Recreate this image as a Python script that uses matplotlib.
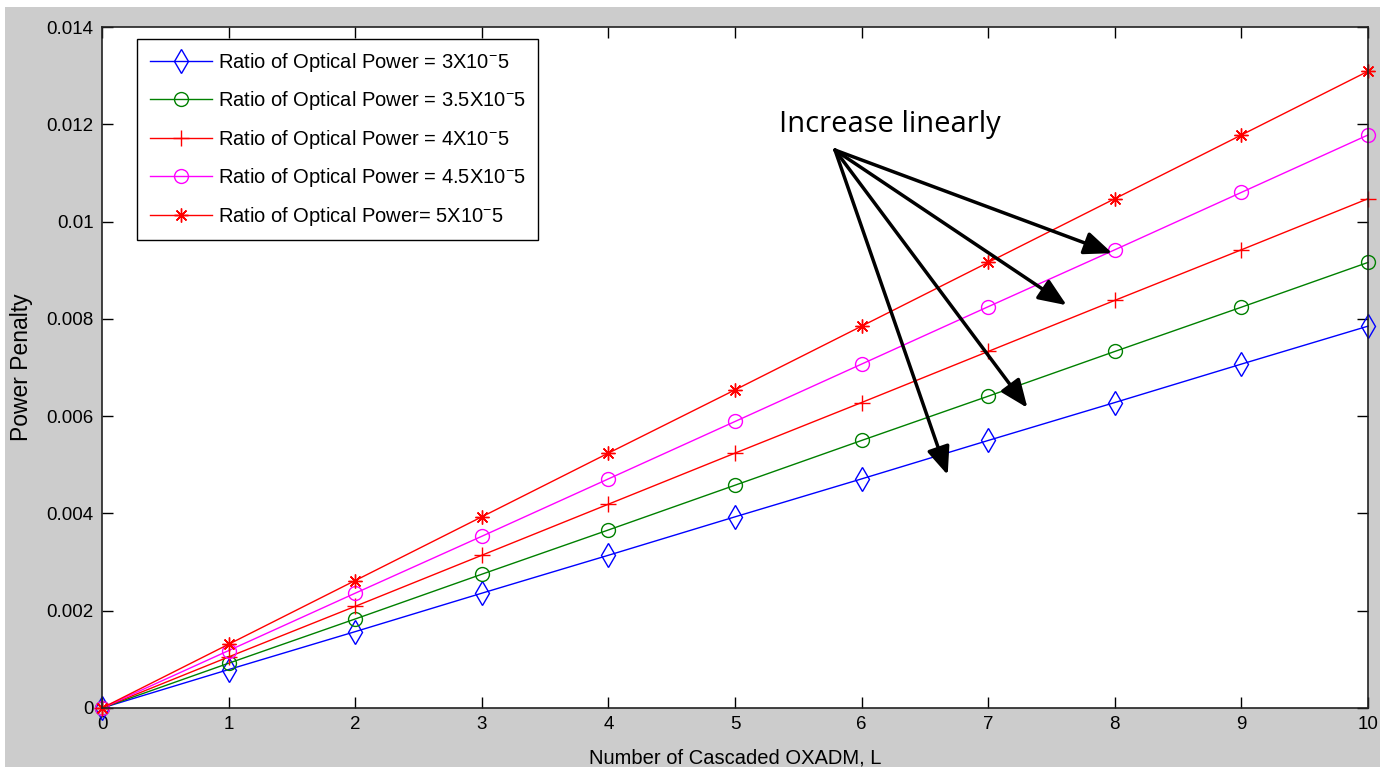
import numpy as np
import matplotlib
matplotlib.use("Agg")
import matplotlib.pyplot as plt
from matplotlib.patches import Rectangle

plt.rcParams["font.family"] = ["Liberation Sans", "DejaVu Sans"]
plt.rcParams["mathtext.fontset"] = "custom"
plt.rcParams["mathtext.rm"] = "Liberation Sans"

# number of cascaded OXADM
L = [0, 1, 2, 3, 4, 5, 6, 7, 8, 9, 10]

# power penalty
pp_3 = [0, 0.00079, 0.00157, 0.00236, 0.00314, 0.00393, 0.00471, 0.00550, 0.00628, 0.00707, 0.00785]
pp_35 = [0, 0.00092, 0.00183, 0.00275, 0.00366, 0.00458, 0.00550, 0.00641, 0.00733, 0.00824, 0.00916]
pp_4 = [0, 0.00105, 0.00209, 0.00314, 0.00419, 0.00524, 0.00628, 0.00733, 0.00838, 0.00942, 0.01047]
pp_45 = [0, 0.00118, 0.00236, 0.00353, 0.00471, 0.00589, 0.00707, 0.00825, 0.00942, 0.01060, 0.01178]
pp_5 = [0, 0.00131, 0.00262, 0.00393, 0.00524, 0.00654, 0.00785, 0.00916, 0.01047, 0.01178, 0.01309]

labels = [
    "Ratio of Optical Power = 3X10$^{-}$5",
    "Ratio of Optical Power = 3.5X10$^{-}$5",
    "Ratio of Optical Power = 4X10$^{-}$5",
    "Ratio of Optical Power = 4.5X10$^{-}$5",
    "Ratio of Optical Power= 5X10$^{-}$5",
]

# annotation: arrow tail and heads (data coords)
arrow_tail = (5.79, 0.01147)
arrow_heads = [(7.98, 0.00935), (7.62, 0.00828), (7.31, 0.00617), (6.68, 0.00479)]

fig = plt.figure(figsize=(13.9, 7.67), dpi=100, facecolor="white")
fig.patches.append(Rectangle((5 / 1390, 0), 1375 / 1390, 760 / 767,
                             transform=fig.transFigure, facecolor="#cccccc",
                             edgecolor="none", zorder=-10))
ax = fig.add_axes([102 / 1390, 59 / 767, 1266 / 1390, 681 / 767])

colors = ["#0000ff", "#008000", "#ff0000", "#ff00ff", "#ff0000"]
markers = ["d", "o", "+", "o", (8, 2, 0)]
msizes = [12, 10, 12, 10, 10]
for vals, col, mk, ms, lab in zip([pp_3, pp_35, pp_4, pp_45, pp_5], colors, markers, msizes, labels):
    ax.plot(L, vals, color=col, marker=mk, markersize=ms,
            markerfacecolor="none", markeredgecolor=col, markeredgewidth=1.0,
            linewidth=1.0, label=lab, clip_on=False)

ax.set_xlim(0, 10)
ax.set_ylim(0, 0.014)
ax.set_xticks(range(0, 11))
ax.set_yticks(np.arange(0, 0.0141, 0.002))
ax.set_yticklabels(["0", "0.002", "0.004", "0.006", "0.008", "0.01", "0.012", "0.014"])
ax.tick_params(direction="in", length=8, width=1, top=True, right=True,
               labelsize=13.5, pad=6)
for sp in ax.spines.values():
    sp.set_linewidth(1.2)
    sp.set_color("#222222")

ax.set_xlabel("Number of Cascaded OXADM, L", fontsize=14.5, labelpad=11)
ax.set_ylabel("Power Penalty", fontsize=16.5, labelpad=10)

leg = ax.legend(loc="upper left", bbox_to_anchor=(0.028, 0.983), borderaxespad=0,
                fontsize=14.5, handlelength=3.1, handletextpad=0.3,
                labelspacing=0.77, fancybox=False, framealpha=1,
                edgecolor="black", borderpad=0.6)
leg.get_frame().set_linewidth(1.0)

ax.text(6.22, 0.0120, "Increase linearly", fontsize=21, family=["Open Sans", "DejaVu Sans"],
        ha="center", va="center")
for hx, hy in arrow_heads:
    ax.annotate("", xy=(hx, hy), xytext=arrow_tail,
                arrowprops=dict(arrowstyle="-|>,head_length=1.7,head_width=0.7",
                                color="black", lw=2.5, shrinkA=0, shrinkB=0))

fig.savefig("out.png", dpi=100, facecolor=fig.get_facecolor())
